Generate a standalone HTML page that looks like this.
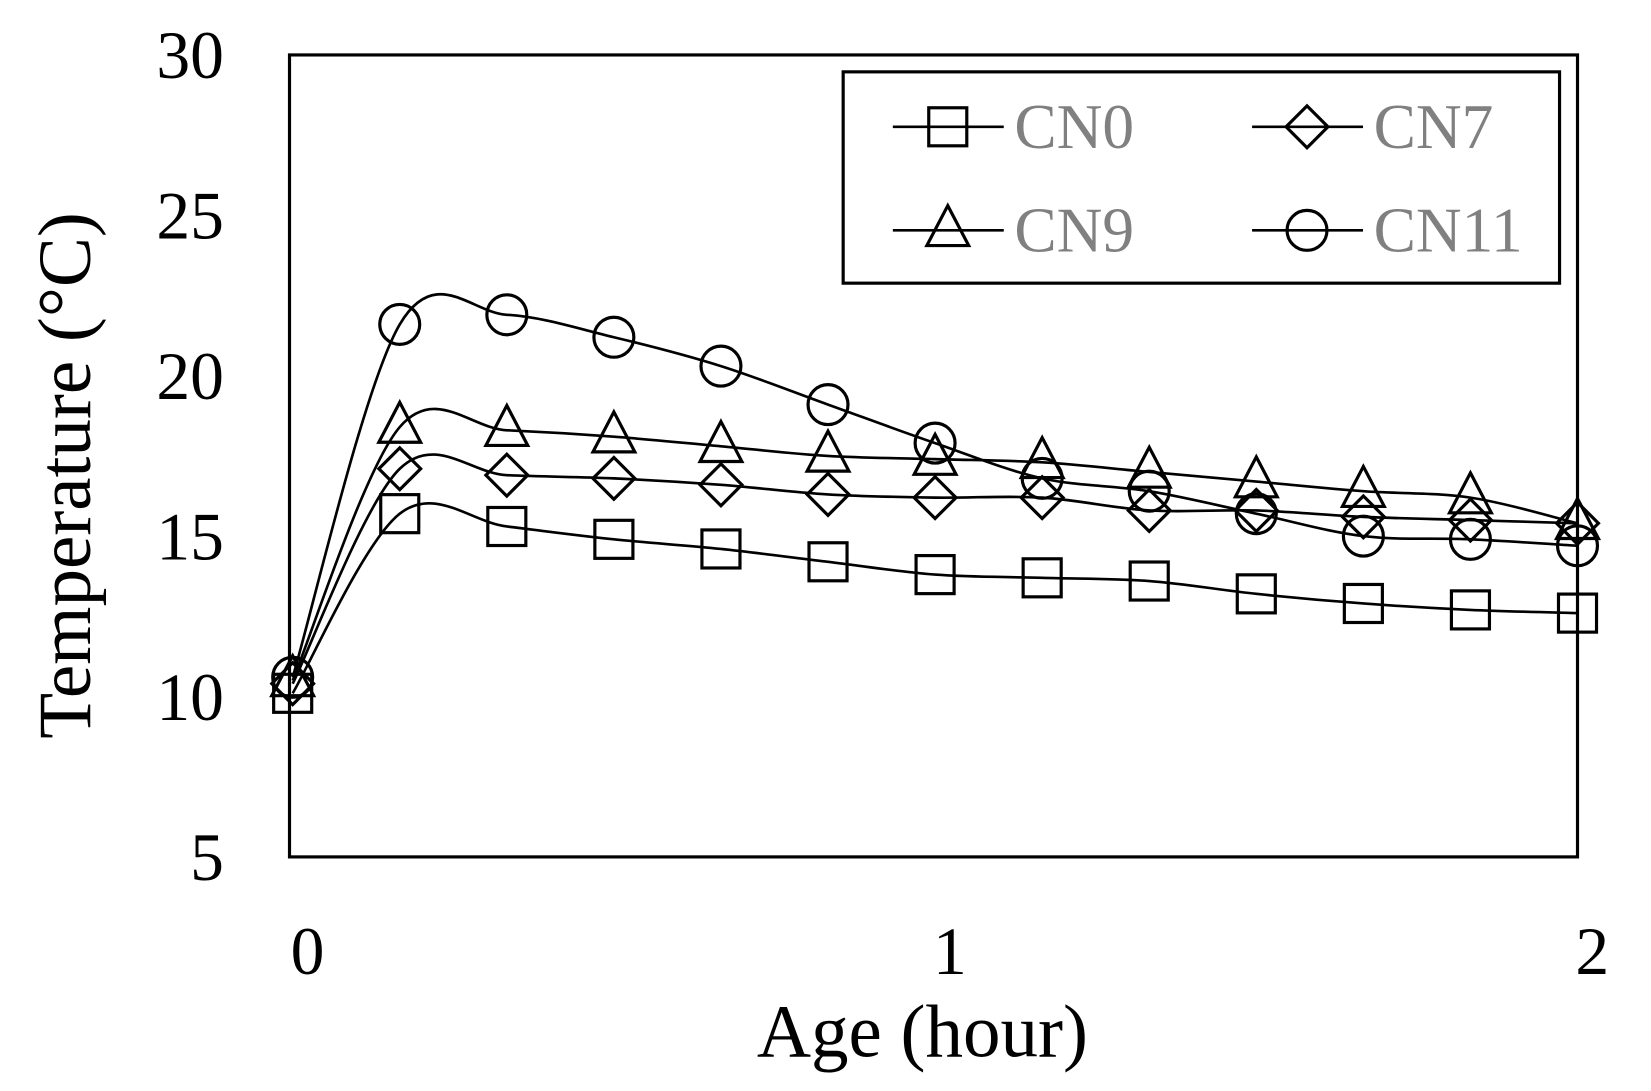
<!DOCTYPE html>
<html><head><meta charset="utf-8"><style>
html,body{margin:0;padding:0;background:#fff;}
svg{display:block;font-family:"Liberation Serif",serif;}
</style></head><body>
<svg id="chart" width="1651" height="1091" viewBox="0 0 1651 1091" xmlns="http://www.w3.org/2000/svg">
<g transform="scale(1.0566)">
<rect x="274" y="52" width="1219" height="759" fill="#fff" stroke="#000" stroke-width="3"/>
<g id="yticks"></g><g id="xticks"></g><g id="series"></g>
<text transform="translate(85,450) rotate(-90)" text-anchor="middle" font-size="71">Temperature (°C)</text>
<text x="873" y="1000" text-anchor="middle" font-size="71">Age (hour)</text>
<g>
<rect x="798" y="68" width="678" height="200" fill="#fff" stroke="#000" stroke-width="3"/>
<g id="legend"></g>
</g>
</g>
</svg>
<script>
const ages = [0,1/6,2/6,3/6,4/6,5/6,1,7/6,8/6,9/6,10/6,11/6,2];
const cn0  = [10.1,15.7,15.3,14.9,14.6,14.2,13.8,13.7,13.6,13.2,12.9,12.7,12.6];
const cn7  = [10.4,17.1,16.9,16.8,16.6,16.3,16.2,16.2,15.8,15.8,15.6,15.5,15.4];
const cn9  = [10.5,18.4,18.3,18.1,17.8,17.5,17.4,17.3,17.0,16.7,16.4,16.2,15.4];
const cn11 = [10.6,21.6,21.9,21.2,20.3,19.1,17.9,16.8,16.4,15.7,15.0,14.9,14.7];
const yTicks = [5,10,15,20,25,30];
const xTicks = [0,1,2];
const seriesNames = ["CN0","CN7","CN9","CN11"];
const seriesMarkers = ["square","diamond","triangle","circle"];

const NS="http://www.w3.org/2000/svg";
const xs = v => 277 + v*608;
const ys = v => 811 - (v-5)*30.36;
function mk(tag,attrs,parent){const e=document.createElementNS(NS,tag);for(const k in attrs)e.setAttribute(k,attrs[k]);parent.appendChild(e);return e;}
const yt=document.getElementById('yticks');
yTicks.forEach(t=>{const e=mk('text',{x:212,y:ys(t)+22,'text-anchor':'end','font-size':64},yt);


e.textContent=t;});
const xt=document.getElementById('xticks');
xTicks.forEach(t=>{const e=mk('text',{x:xs(t)+14,y:922,'text-anchor':'middle','font-size':64},xt);


e.textContent=t;});
function marker(type,cx,cy,p,s){
  let e;
  if(type==='square')e=mk('rect',{x:cx-s,y:cy-s,width:2*s,height:2*s},p);
  else if(type==='diamond')e=mk('polygon',{points:`${cx},${cy-s*1.1} ${cx+s*1.1},${cy} ${cx},${cy+s*1.1} ${cx-s*1.1},${cy}`},p);
  else if(type==='triangle')e=mk('polygon',{points:`${cx},${cy-s*1.3} ${cx+s*1.1},${cy+s*0.8} ${cx-s*1.1},${cy+s*0.8}`},p);
  else e=mk('circle',{cx:cx,cy:cy,r:s*1.05},p);
  e.setAttribute('fill','none');e.setAttribute('stroke','#000');e.setAttribute('stroke-width','3');
  return e;
}
function smooth(pts){
  let d=`M${pts[0][0]},${pts[0][1]}`;
  for(let i=0;i<pts.length-1;i++){
    const p0=pts[i-1]||pts[i],p1=pts[i],p2=pts[i+1],p3=pts[i+2]||p2;
    const c1=[p1[0]+(p2[0]-p0[0])/6,p1[1]+(p2[1]-p0[1])/6];
    const c2=[p2[0]-(p3[0]-p1[0])/6,p2[1]-(p3[1]-p1[1])/6];
    d+=` C${c1[0]},${c1[1]} ${c2[0]},${c2[1]} ${p2[0]},${p2[1]}`;
  }
  return d;
}
const sg=document.getElementById('series');
const allData=[cn0,cn7,cn9,cn11];
allData.forEach((vals,si)=>{
  const g=mk('g',{},sg);
  
  
  const pts=ages.map((a,i)=>[xs(a),ys(vals[i])]);
  const path=mk('path',{d:smooth(pts),fill:'none',stroke:'#000','stroke-width':2.5},g);
  
  
  pts.forEach(p=>{const m=marker(seriesMarkers[si],p[0],p[1],g,18);
    
    });
});
const lg=document.getElementById('legend');
const lpos=[[845,120],[1185,120],[845,218],[1185,218]];
seriesNames.forEach((n,i)=>{
  const [x,y]=lpos[i];
  const g=mk('g',{},lg);
  
  
  mk('line',{x1:x,y1:y,x2:x+105,y2:y,stroke:'#000','stroke-width':2.5},g);
  marker(seriesMarkers[i],x+52,y,g,18);
  const t=mk('text',{x:x+115,y:y+20,'font-size':60,fill:'#808080'},g);
  t.textContent=n;
});
</script>
</body></html>
